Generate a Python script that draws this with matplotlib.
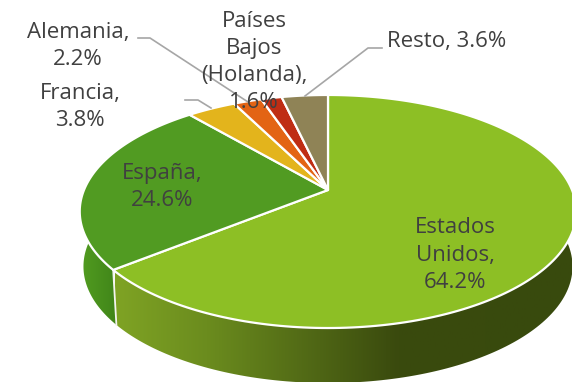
import numpy as np
import matplotlib
matplotlib.use("Agg")
import matplotlib.pyplot as plt
from matplotlib.patches import Polygon
from matplotlib.colors import LinearSegmentedColormap

# Data
countries = ["Estados\nUnidos,", "España,", "Francia,", "Alemania,", "Países\nBajos\n(Holanda),", "Resto,"]
shares = [64.2, 24.6, 3.8, 2.2, 1.6, 3.6]
colors = ["#8DBF25", "#519B22", "#E3B41C", "#E36414", "#BF2D14", "#8F8356"]
label_xy = [(455, 255), (162, 187), (80, 107), (78, 46), (254, 62), (447, 41)]

W, H = 572, 382
cx, cy, R = 328, 190, 244
persp = 0.1845      # top of the pie is further away than the bottom
tilt = -77.5
depth = 55
shrink = 0.985

def rim(theta):
    # point on the pie rim, theta clockwise from 12 o'clock, in pixels
    u, v = np.sin(theta), np.cos(theta)
    d = persp*v + 1
    return cx + R*u/d, (tilt*v + cy)/d

def side_poly(t0, t1):
    t = np.linspace(t0, t1, 200)
    x, y = rim(t)
    xb = cx + (x-cx)*shrink
    yb = y + depth
    return np.vstack([np.c_[x, y], np.c_[xb, yb][::-1]])

def wedge_poly(t0, t1):
    t = np.linspace(t0, t1, 200)
    x, y = rim(t)
    return np.vstack([[cx, cy], np.c_[x, y]])

fig = plt.figure(figsize=(W/100, H/100), dpi=100)
ax = fig.add_axes([0, 0, 1, 1])
ax.set_xlim(0, W)
ax.set_ylim(H, 0)
ax.axis("off")

edges = np.r_[0, np.cumsum(shares)]/100*2*np.pi

# Pie wall, only the two big slices show it
wall_cmaps = [
    LinearSegmentedColormap.from_list("us", [(0, "#7FA324"), (0.2, "#6B8C1E"), (0.62, "#3A4A0E"), (1, "#384A0D")]),
    LinearSegmentedColormap.from_list("es", ["#529C20", "#3F8419"]),
]
wall_x = [(115, 572), (80, 119)]
for i in range(2):
    poly = Polygon(side_poly(edges[i], edges[i+1]), closed=True, fc="none", ec="none", transform=ax.transData)
    ax.add_patch(poly)
    img = ax.imshow(np.linspace(0, 1, 256)[None, :], cmap=wall_cmaps[i], aspect="auto",
                    extent=[wall_x[i][0], wall_x[i][1], H, 0], zorder=1)
    img.set_clip_path(poly)
ax.set_xlim(0, W)
ax.set_ylim(H, 0)

# white seam between the two walls
sx, sy = rim(edges[1])
ax.plot([sx, cx + (sx-cx)*shrink], [sy, sy + depth], color="#F4F4F0", lw=1.3, zorder=2)

# Pie top
for i in range(len(shares)):
    ax.add_patch(Polygon(wedge_poly(edges[i], edges[i+1]), closed=True, fc=colors[i], ec="white", lw=1.6,
                         joinstyle="round", zorder=3))

# Leader lines
leaders = [([138, 150, 248], [38, 38, 102]),
           ([185, 198, 211], [100, 100, 108]),
           ([382, 368, 305], [48, 48, 96])]
for lx, ly in leaders:
    ax.plot(lx, ly, color="#A6A6A6", lw=1.2, zorder=4)

# Labels
for name, val, (x, y) in zip(countries, shares, label_xy):
    if name == "Resto,":
        txt = "{} {:.1f}%".format(name, val)
    else:
        txt = "{}\n{:.1f}%".format(name, val)
    ax.text(x, y, txt, ha="center", va="center", fontsize=16, color="#404040",
            family="Open Sans", linespacing=1.39, zorder=5)

fig.savefig("out.png", dpi=100)
